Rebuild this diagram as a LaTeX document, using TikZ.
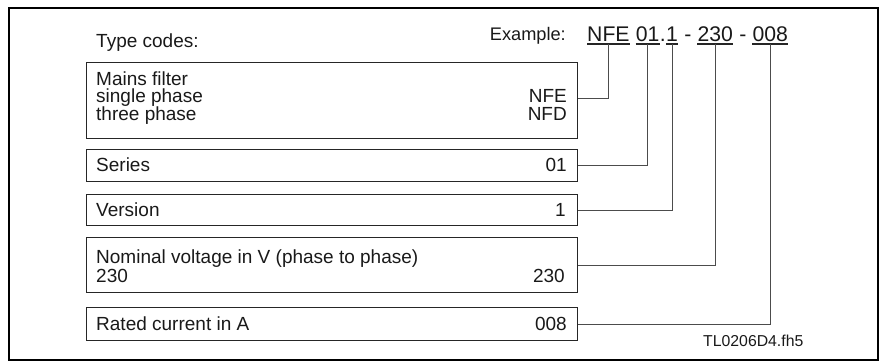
\documentclass[tikz,border=0pt]{standalone}
\usepackage{fontspec}
\setmainfont{Liberation Sans}
\newcommand\fsn{\fontsize{19}{19}\selectfont}
\newcommand\fse{\fontsize{18.2}{19}\selectfont}
\newcommand\fsc{\fontsize{21.2}{22}\selectfont}
\newcommand\fss{\fontsize{15.8}{16}\selectfont}
\tikzset{
  box/.style={draw=black!85, line width=1.2pt, inner sep=0pt, anchor=north west},
  lbl/.style={font=\fsn, inner sep=0pt, anchor=base west, text=black!90},
  rlbl/.style={font=\fsn, inner sep=0pt, anchor=base east, text=black!90},
  code/.style={font=\fsc, inner sep=0pt, anchor=base west, text=black!90},
  conn/.style={draw=black!70, line width=1.1pt},
  ul/.style={draw=black!85, line width=2.8pt},
}
\begin{document}
\begin{tikzpicture}[x=1pt,y=-1pt]
\useasboundingbox (0,0) rectangle (883,362);
\node[draw=black, line width=2pt, inner sep=0pt, minimum width=869pt, minimum height=352pt, anchor=north west] (frame) at (8,7) {};
% titles
\node[lbl] (tc) at (96,47) {Type codes:};
\node[font=\fse, inner sep=0pt, anchor=base east, text=black!90] (ex) at (566,40) {Example:};
% code pieces
\node[code] (c1) at (587,41) {NFE};
\node[code, xshift=5.9pt] (c2) at (c1.base east) {01};
\node[code] (dt) at (c2.base east) {.};
\node[code] (c3) at (dt.base east) {1};
\node[code, xshift=5.9pt] (d1) at (c3.base east) {-};
\node[code, xshift=5.9pt] (c4) at (d1.base east) {230};
\node[code, xshift=5.9pt] (d2) at (c4.base east) {-};
\node[code, xshift=5.9pt] (c5) at (d2.base east) {008};
\foreach \c in {c1,c2,c3,c4,c5}{
  \draw[ul] ([yshift=-3pt]\c.base west) -- ([yshift=-3pt]\c.base east);
  \coordinate (\c u) at ([yshift=-3pt]\c.base);
}
% boxes
\node[box, minimum width=491pt, minimum height=76pt] (b1) at (86,62) {};
\node[box, minimum width=491pt, minimum height=32pt] (b2) at (86,149) {};
\node[box, minimum width=491pt, minimum height=31pt] (b3) at (86,194) {};
\node[box, minimum width=491pt, minimum height=55pt] (b4) at (86,237) {};
\node[box, minimum width=491pt, minimum height=33pt] (b5) at (86,307) {};
% box texts
\node[lbl] (t11) at (96,85) {Mains filter};
\node[lbl] (t12) at (96,102.5) {single phase};
\node[lbl] (t13) at (96,120) {three phase};
\node[rlbl] (r12) at (567,102.5) {NFE};
\node[rlbl] (r13) at (567,120) {NFD};
\node[lbl] (t2) at (96,171.5) {Series};
\node[rlbl] (r2) at (567,171.5) {01};
\node[lbl] (t3) at (96,216) {Version};
\node[rlbl] (r3) at (566,216) {1};
\node[lbl] (t41) at (96,263) {Nominal voltage in V (phase to phase)};
\node[lbl] (t42) at (96,282.5) {230};
\node[rlbl] (r4) at (565,282.5) {230};
\node[lbl] (t5) at (96,330) {Rated current in A};
\node[rlbl] (r5) at (567,330) {008};
\node[font=\fss, inner sep=0pt, anchor=base west, text=black!90] (fn) at (703,346) {TL0206D4.fh5};
% connectors
\draw[conn] ([yshift=2pt]b1.east) -| (c1u);
\draw[conn] (b2.east) -| (c2u);
\draw[conn] (b3.east) -| (c3u);
\draw[conn] (b4.east) -| (c4u);
\draw[conn] (b5.east) -| (c5u);
\end{tikzpicture}
\end{document}
